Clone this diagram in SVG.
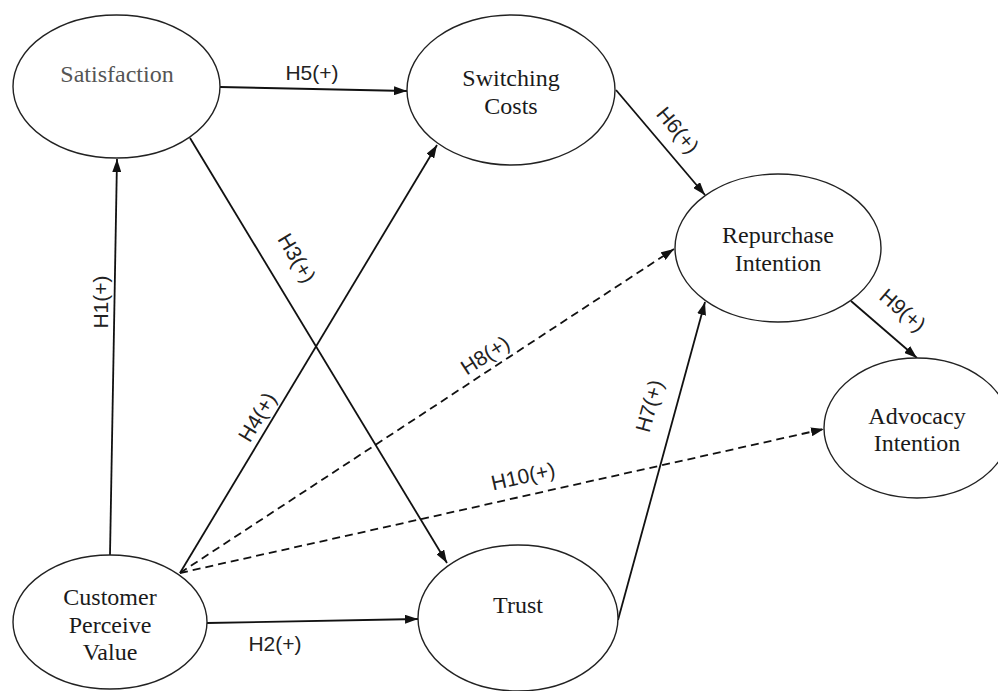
<svg xmlns="http://www.w3.org/2000/svg" width="998" height="691" viewBox="0 0 998 691">
<defs>
<marker id="arr" viewBox="0 0 13 9" refX="13" refY="4.5" markerWidth="13" markerHeight="9" markerUnits="userSpaceOnUse" orient="auto">
<path d="M0,0 L13,4.5 L0,9 Z" fill="#111"/>
</marker>
</defs>
<style>
.node ellipse{fill:#fff;stroke:#222;stroke-width:1.4}
.node text{font-family:"Liberation Serif","Times New Roman",serif;font-size:24px;fill:#1a1a1a;text-anchor:middle}
.edge{stroke:#111;stroke-width:1.8;fill:none;marker-end:url(#arr)}
.dash{stroke-dasharray:8 5}
.lbl{font-family:"Liberation Sans",Arial,sans-serif;font-size:21px;fill:#222;text-anchor:middle;dominant-baseline:central}
</style>
<rect width="998" height="691" fill="#fff"/>
<g id="connectors">
<line class="edge" x1="220" y1="87" x2="407" y2="91"/>
<line class="edge" x1="110" y1="555" x2="117" y2="159"/>
<line class="edge" x1="190" y1="138" x2="447" y2="563"/>
<line class="edge" x1="180" y1="573" x2="437" y2="145"/>
<line class="edge dash" x1="180" y1="573" x2="674" y2="249"/>
<line class="edge dash" x1="180" y1="573" x2="824" y2="429"/>
<line class="edge" x1="207" y1="623" x2="418" y2="619"/>
<line class="edge" x1="618" y1="620" x2="705" y2="302"/>
<line class="edge" x1="616" y1="90" x2="705" y2="195"/>
<line class="edge" x1="851" y1="301" x2="917" y2="358"/>
<text class="lbl" x="312" y="72">H5(+)</text>
<text class="lbl" transform="translate(100,302) rotate(-90)">H1(+)</text>
<text class="lbl" transform="translate(297,258) rotate(59)">H3(+)</text>
<text class="lbl" transform="translate(257,417) rotate(-59)">H4(+)</text>
<text class="lbl" transform="translate(485,355) rotate(-33)">H8(+)</text>
<text class="lbl" transform="translate(523,476) rotate(-12.7)">H10(+)</text>
<text class="lbl" x="275" y="643">H2(+)</text>
<text class="lbl" transform="translate(649,406) rotate(-74.7)">H7(+)</text>
<text class="lbl" transform="translate(678,130) rotate(50)">H6(+)</text>
<text class="lbl" transform="translate(903,310) rotate(41)">H9(+)</text>
</g>
<g id="satisfaction" class="node">
<ellipse cx="116.5" cy="86.5" rx="103.5" ry="71.5"/>
<text x="117" y="82" style="fill:#555">Satisfaction</text>
</g>
<g id="switching-costs" class="node">
<ellipse cx="511" cy="90" rx="104" ry="75"/>
<text x="511" y="86">Switching</text>
<text x="511" y="114">Costs</text>
</g>
<g id="repurchase-intention" class="node">
<ellipse cx="778" cy="248" rx="103" ry="74"/>
<text x="778" y="243">Repurchase</text>
<text x="778" y="271">Intention</text>
</g>
<g id="advocacy-intention" class="node">
<ellipse cx="917" cy="428" rx="93" ry="70"/>
<text x="917" y="424">Advocacy</text>
<text x="917" y="451">Intention</text>
</g>
<g id="customer-perceive-value" class="node">
<ellipse cx="110" cy="622" rx="97" ry="67"/>
<text x="110" y="605">Customer</text>
<text x="110" y="633">Perceive</text>
<text x="110" y="660">Value</text>
</g>
<g id="trust" class="node">
<ellipse cx="518" cy="618" rx="100" ry="73"/>
<text x="518" y="613">Trust</text>
</g>
</svg>
